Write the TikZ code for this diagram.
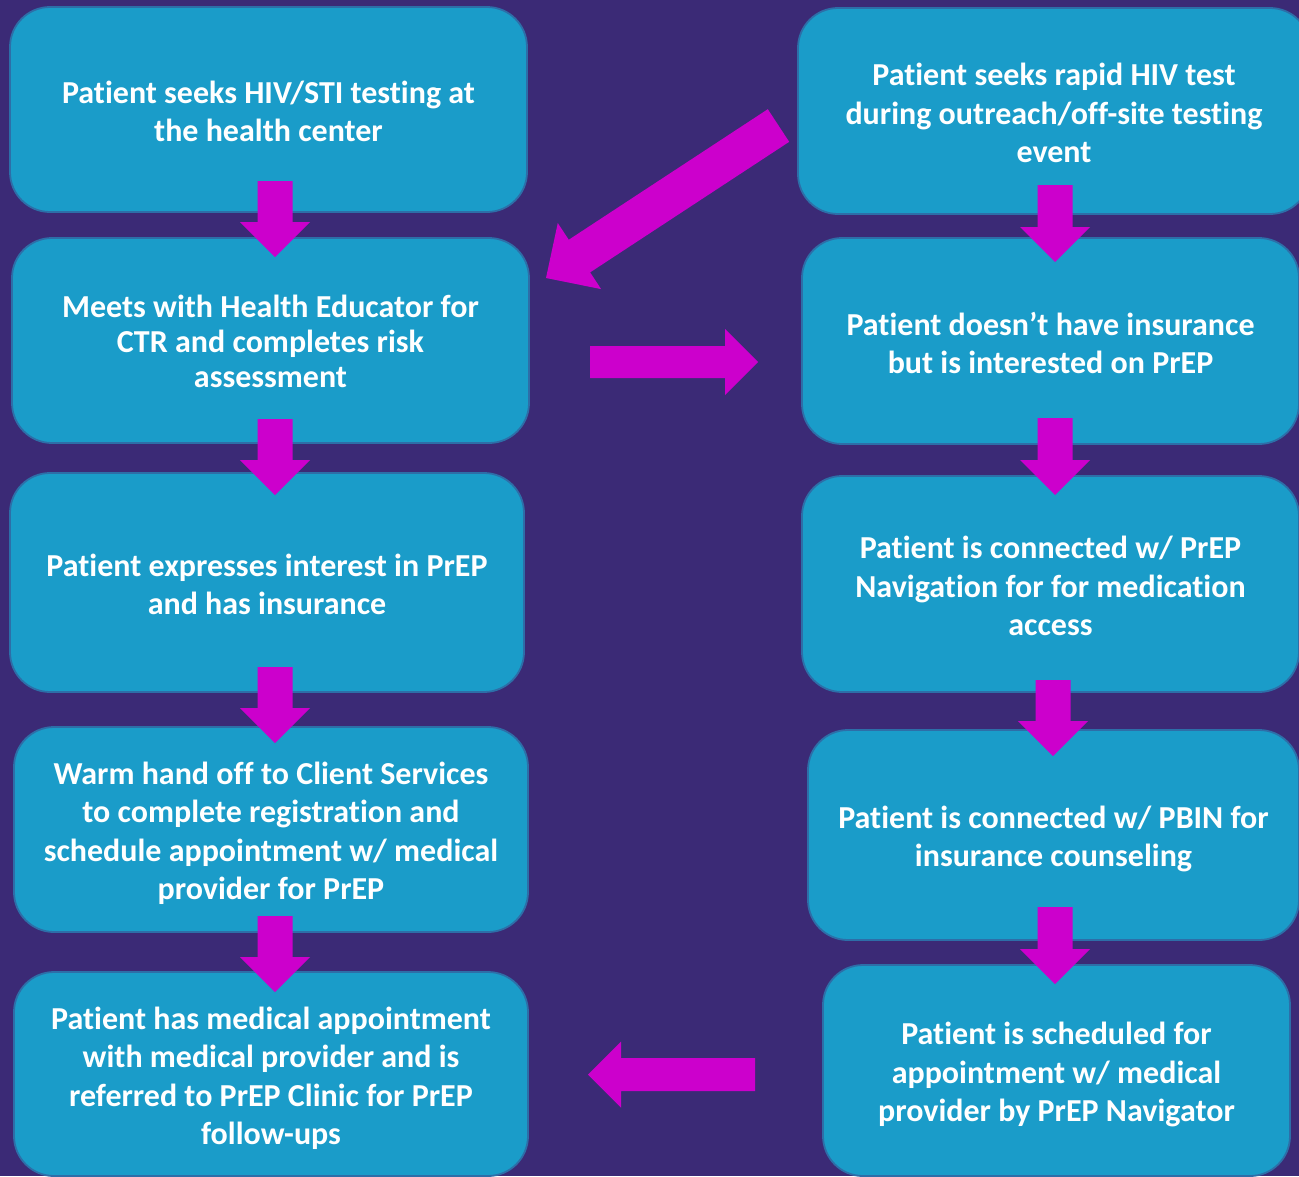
\documentclass[tikz,border=0pt]{standalone}
\usepackage{fontspec}
\setmainfont{Carlito}[Ligatures={NoCommon}]
\usetikzlibrary{calc}
\definecolor{bgpurple}{RGB}{59,42,118}
\definecolor{boxblue}{RGB}{26,156,201}
\definecolor{boxedge}{RGB}{45,110,168}
\definecolor{arrowmag}{RGB}{204,0,204}
\tikzset{
  box/.style={rectangle, rounded corners=40pt, fill=boxblue, draw=boxedge, line width=1.8pt,
    inner sep=0pt},
  boxtext/.style={inner sep=0pt, align=center, text=white, yshift=-2pt,
    font=\fontsize{32}{38.5}\selectfont\bfseries},
  smalltext/.style={boxtext, font=\fontsize{32}{35}\selectfont\bfseries},
  arrowfill/.style={fill=arrowmag}
}
\newcommand\blockarr[5]{%
  \coordinate (bahead) at ($(#2)!#5!(#1)$);
  \fill[arrowfill] ($(#1)!#3!90:(#2)$) -- ($(bahead)!#3!-90:(#1)$) -- ($(bahead)!#4!-90:(#1)$)
    -- (#2) -- ($(bahead)!#4!90:(#1)$) -- ($(bahead)!#3!90:(#1)$) -- ($(#1)!#3!-90:(#2)$) -- cycle;}
\begin{document}
\begin{tikzpicture}[x=1pt,y=-1pt]
\useasboundingbox (0,0) rectangle (1299,1176);
\clip (0,0) rectangle (1299,1176);
\fill[bgpurple] (0,0) rectangle (1299,1176);
% left column
\node[box, minimum width=517pt, minimum height=205pt] (b1) at (268.5,109.5) {};
\node[boxtext] (b1t) at (b1.center) {Patient seeks HIV/STI testing at\\the health center};
\node[box, minimum width=517pt, minimum height=205pt] (b2) at (270.5,340.5) {};
\node[smalltext, yshift=1pt] (b2t) at (b2.center) {Meets with Health Educator for\\CTR and completes risk\\assessment};
\node[box, minimum width=514pt, minimum height=219pt] (b3) at (267,582.5) {};
\node[boxtext] (b3t) at (b3.center) {Patient expresses interest in PrEP\\and has insurance};
\node[box, minimum width=514pt, minimum height=205pt] (b4) at (271,829.5) {};
\node[boxtext, yshift=-2pt] (b4t) at (b4.center) {Warm hand off to Client Services\\to complete registration and\\schedule appointment w/ medical\\provider for PrEP};
\node[box, minimum width=514pt, minimum height=204pt] (b5) at (271,1074) {};
\node[boxtext, yshift=-2.5pt] (b5t) at (b5.center) {Patient has medical appointment\\with medical provider and is\\referred to PrEP Clinic for PrEP\\follow-ups};
% right column
\node[box, minimum width=512pt, minimum height=206pt] (r1) at (1054,111) {};
\node[boxtext] (r1t) at (r1.center) {Patient seeks rapid HIV test\\during outreach/off-site testing\\event};
\node[box, minimum width=497pt, minimum height=206pt] (r2) at (1050.5,341) {};
\node[boxtext] (r2t) at (r2.center) {Patient doesn’t have insurance\\but is interested on PrEP};
\node[box, minimum width=497pt, minimum height=216pt] (r3) at (1050.5,584) {};
\node[boxtext] (r3t) at (r3.center) {Patient is connected w/ PrEP\\Navigation for for medication\\access};
\node[box, minimum width=491pt, minimum height=210pt] (r4) at (1053.5,835) {};
\node[boxtext, yshift=-2pt] (r4t) at (r4.center) {Patient is connected w/ PBIN for\\insurance counseling};
\node[box, minimum width=467pt, minimum height=211pt] (r5) at (1056.5,1070.5) {};
\node[boxtext, yshift=-2pt] (r5t) at (r5.center) {Patient is scheduled for\\appointment w/ medical\\provider by PrEP Navigator};
% arrow end points
\coordinate (l1s) at (275,181); \coordinate (l1e) at (275,257);
\coordinate (l2s) at (275,419); \coordinate (l2e) at (275,495);
\coordinate (l3s) at (275,667); \coordinate (l3e) at (275,743);
\coordinate (l4s) at (275,916); \coordinate (l4e) at (275,992);
\coordinate (r1s) at (1055,185); \coordinate (r1e) at (1055,262);
\coordinate (r2s) at (1055,418); \coordinate (r2e) at (1055,495);
\coordinate (r3s) at (1053,680); \coordinate (r3e) at (1053,756);
\coordinate (r4s) at (1055,907); \coordinate (r4e) at (1055,984);
\coordinate (hs) at (590,362); \coordinate (he) at (758,362);
\coordinate (bs) at (755,1074.5); \coordinate (be) at (588,1074.5);
\coordinate (ds) at (778.5,125.5); \coordinate (de) at (546,278);
% arrows
\blockarr{l1s}{l1e}{17.5pt}{35pt}{35pt}
\blockarr{l2s}{l2e}{17.5pt}{35pt}{35pt}
\blockarr{l3s}{l3e}{17.5pt}{35pt}{35pt}
\blockarr{l4s}{l4e}{17.5pt}{35pt}{35pt}
\blockarr{r1s}{r1e}{17.5pt}{35pt}{35pt}
\blockarr{r2s}{r2e}{17.5pt}{35pt}{35pt}
\blockarr{r3s}{r3e}{17.5pt}{35pt}{35pt}
\blockarr{r4s}{r4e}{17.5pt}{35pt}{35pt}
\blockarr{hs}{he}{16pt}{33pt}{33pt}
\blockarr{bs}{be}{16.5pt}{33pt}{33pt}
\blockarr{ds}{de}{19.5pt}{39.5pt}{40pt}
\end{tikzpicture}
\end{document}
